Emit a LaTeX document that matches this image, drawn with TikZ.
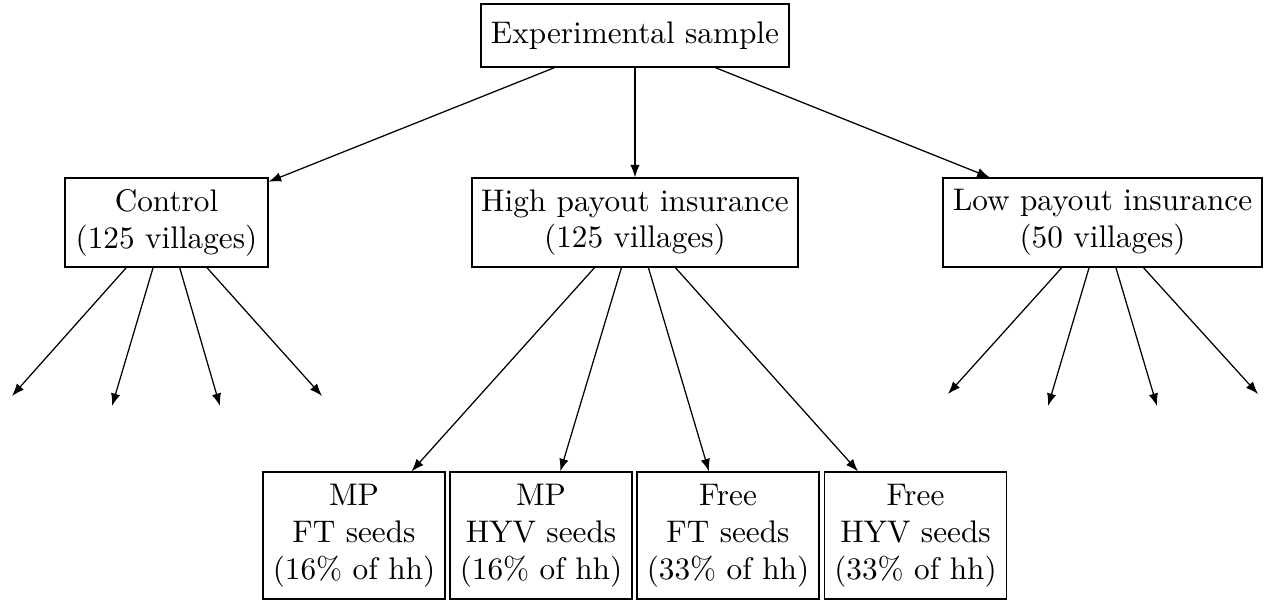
\documentclass[tikz,border=0pt]{standalone}
\usetikzlibrary{arrows.meta}
\begin{document}
\begin{tikzpicture}[x=0.32pt,y=-0.32pt,
  box/.style={draw,line width=0.4pt,inner sep=0pt,align=center,font=\fontsize{10}{11.8}\selectfont},
  arr/.style={-{Latex[length=4pt,width=3pt]},line width=0.4pt}]
\useasboundingbox (0,0) rectangle (1264,600);
\node[box,minimum width=98.56pt,minimum height=20.16pt] (exp) at (635,35.5) {Experimental sample};
\node[box,minimum width=64.96pt,minimum height=28.48pt] (ctrl) at (166.5,222.5) {Control\\(125 villages)};
\node[box,minimum width=104.32pt,minimum height=28.48pt] (high) at (635,222.5) {High payout insurance\\(125 villages)};
\node[box,minimum width=102.08pt,minimum height=28.48pt] (low) at (1102.5,222.5) {Low payout insurance\\(50 villages)};
\node[box,minimum width=58.24pt,minimum height=40.64pt] (b1) at (354,535.5) {MP\\FT seeds\\(16\% of hh)};
\node[box,minimum width=58.24pt,minimum height=40.64pt] (b2) at (541,535.5) {MP\\HYV seeds\\(16\% of hh)};
\node[box,minimum width=58.24pt,minimum height=40.64pt] (b3) at (728,535.5) {Free\\FT seeds\\(33\% of hh)};
\node[box,minimum width=58.24pt,minimum height=40.64pt] (b4) at (915.5,535.5) {Free\\HYV seeds\\(33\% of hh)};
\coordinate (c1) at (12,396);
\coordinate (c2) at (112,406);
\coordinate (c3) at (220,406);
\coordinate (c4) at (322,396);
\coordinate (l1) at (948,394);
\coordinate (l2) at (1048,406);
\coordinate (l3) at (1157,406);
\coordinate (l4) at (1258,394);
\draw[arr] (exp) -- (ctrl);
\draw[arr] (exp) -- (high);
\draw[arr] (exp) -- (low);
\foreach \t in {c1,c2,c3,c4} \draw[arr] (ctrl) -- (\t);
\foreach \t in {b1,b2,b3,b4} \draw[arr] (high) -- (\t);
\foreach \t in {l1,l2,l3,l4} \draw[arr] (low) -- (\t);
\end{tikzpicture}
\end{document}
